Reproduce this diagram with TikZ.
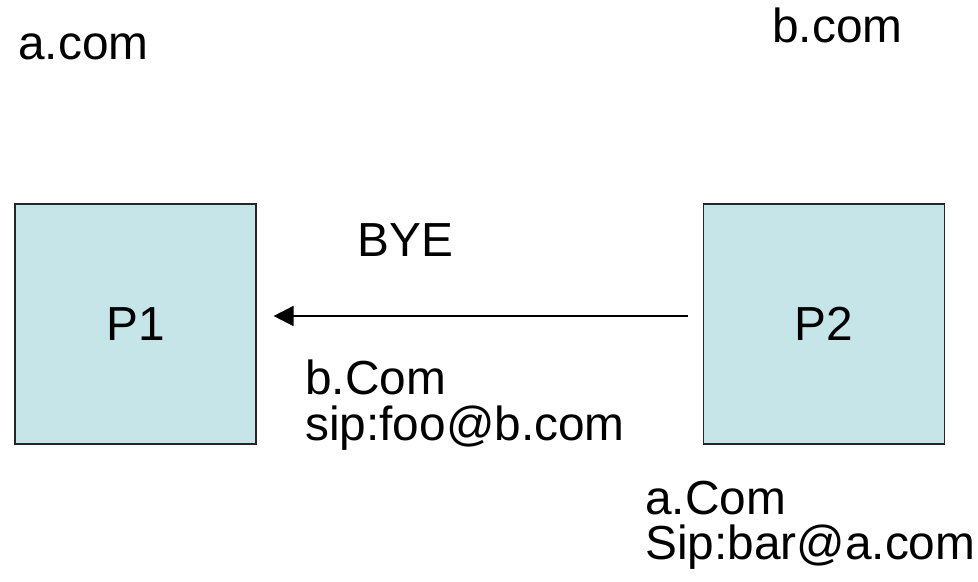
\documentclass[tikz,border=0pt]{standalone}
\usepackage{fontspec}
\setmainfont{Liberation Sans}
\usepackage{tikz}
\usetikzlibrary{arrows.meta,positioning}
\usepackage{xcolor}
\definecolor{boxblue}{HTML}{C6E5E8}

\begin{document}
\begin{tikzpicture}[
    every node/.style={font=\fontsize{34}{34}\selectfont},
    proxy/.style={draw=black!85, line width=0.8pt, fill=boxblue, minimum width=6.025cm, minimum height=6cm, inner sep=0pt},
    lbl/.style={anchor=base west, inner sep=0pt}
]
    \useasboundingbox (0,0) rectangle (24.45,14.55);

    % domains
    \node[lbl] (doma) at (0.45,13.05) {a.com};
    \node[lbl] (domb) at (19.3,13.475) {b.com};

    % proxies
    \node[proxy] (p1) at (3.3875,6.45) {P1};
    \node[proxy] (p2) at (20.6,6.45) {P2};

    % request
    \draw[line width=1.1pt, -{Triangle[length=0.5cm, width=0.5cm]}] ([xshift=-0.375cm, yshift=0.2cm]p2.west) -- ([xshift=0.425cm, yshift=0.2cm]p1.east);
    \node[lbl] (bye) at (8.925,8.125) {BYE};

    % headers
    \node[lbl] (fromb) at (7.625,4.675) {b.Com};
    \node[lbl] (urib) at (7.625,3.525) {sip:foo@b.com};
    \node[lbl] (froma) at (16.125,1.675) {a.Com};
    \node[lbl] (uria) at (16.125,0.55) {Sip:bar@a.com};
\end{tikzpicture}
\end{document}
